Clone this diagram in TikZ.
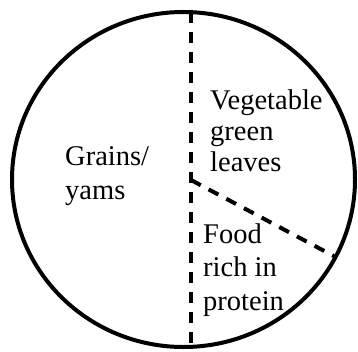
\documentclass[tikz,border=0pt]{standalone}
\usepackage{fontspec}
\setmainfont{Liberation Serif}
\usetikzlibrary{shapes.geometric, positioning}

\begin{document}
\begin{tikzpicture}[
        x=1pt, y=1pt,
        % Styles
        plate_edge/.style={draw=black, ellipse, line width=4pt, inner sep=0pt, outer sep=0pt, minimum width=343pt, minimum height=335pt},
        divider/.style={draw=black, line width=4pt, dash pattern=on 11pt off 9pt},
        food_lbl/.style={inner sep=0pt, align=left, anchor=base west, font=\fontsize{28.5}{#1}\selectfont},
        food_lbl/.default=31pt
    ]
    \useasboundingbox (0,0) rectangle (358,351);

    % Plate outline
    \node[plate_edge] (dish) at (183.5,171.5) {};
    \coordinate (hub) at (191,171);

    % Dividers
    \draw[divider] (hub |- dish.north) -- (hub |- dish.south);
    \draw[divider] (hub) -- (dish.-27.7);

    % Labels (anchored on the last line)
    \node[food_lbl=34pt] (grains) at (65,152) {Grains/\\yams};
    \node[food_lbl] (greens) at (210,179) {Vegetable\\green\\leaves};
    \node[food_lbl=33.5pt] (protein) at (203,41) {Food\\rich in\\protein};

\end{tikzpicture}
\end{document}
